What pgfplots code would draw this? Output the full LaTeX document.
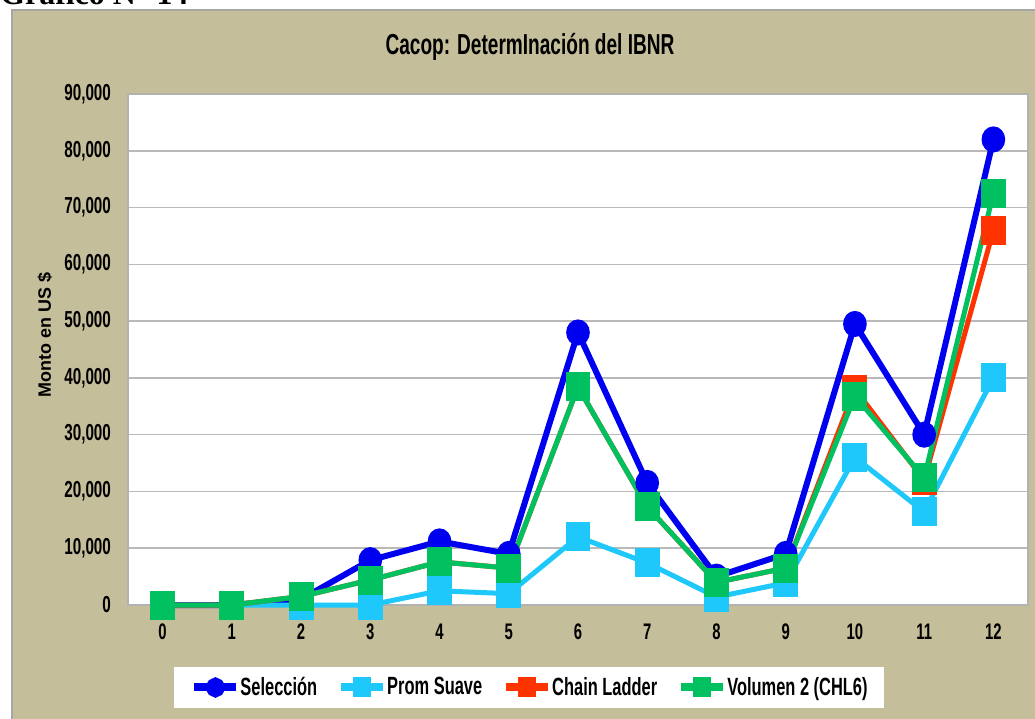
\documentclass[border=0pt]{standalone}
\usepackage{fontspec}
\setmainfont{Liberation Sans}[FakeStretch=0.66]
\newfontfamily\widefont{Liberation Sans}
\newfontfamily\seriffont{Liberation Serif}
\usepackage{pgfplots}
\pgfplotsset{compat=1.18}
\definecolor{tanbg}{RGB}{197,190,154}
\definecolor{cSel}{RGB}{0,0,240}
\definecolor{cProm}{RGB}{30,200,250}
\definecolor{cChain}{RGB}{255,51,0}
\definecolor{cVol}{RGB}{0,192,96}
\begin{document}
\begin{tikzpicture}
\useasboundingbox (-64bp,-57bp) rectangle (453.5bp,302.5bp);
\fill[white] (-64bp,-57bp) rectangle (453.5bp,302.5bp);
\fill[tanbg] (-58bp,-60bp) rectangle (460bp,297.5bp);
\draw[gray!70, line width=1bp] (-58bp,-60bp) -- (-58bp,297.5bp) -- (460bp,297.5bp);
\node[anchor=base west, inner sep=0pt, font=\seriffont\bfseries\fontsize{16}{18}\selectfont] at (-64bp,300bp) {Gráfico N° 14};
\begin{axis}[
  at={(0,0)}, anchor=south west, scale only axis,
  width=450bp, height=255.5bp,
  xmin=-0.5, xmax=12.5, ymin=0, ymax=90000,
  xtick={0,1,...,12}, ytick={0,10000,...,90000},
  ymajorgrids, grid style={draw=gray!55, line width=0.8bp},
  axis background/.style={fill=white},
  axis line style={draw=gray!60, line width=0.8bp},
  major tick length=0pt,
  scaled y ticks=false,
  clip=false,
  /pgf/number format/.cd, 1000 sep={,}, assume math mode=true, /pgfplots/.cd,
  yticklabel style={font=\bfseries\fontsize{11.6}{13}\selectfont, xshift=-5bp},
  xticklabel style={font=\bfseries\fontsize{11.3}{13}\selectfont, yshift=-6bp},
  legend columns=4,
  legend cell align=left,
  legend style={at={(0.4456,-0.1614)}, anchor=center, draw=none, fill=white,
    font=\bfseries\fontsize{12.5}{14}\selectfont,
    nodes={inner xsep=0bp},
    inner xsep=8bp, inner ysep=3bp,
    /tikz/every odd column/.append style={column sep=0bp},
    /tikz/every even column/.append style={column sep=10bp}},
  legend image code/.code={\draw[mark repeat=2, mark phase=2, line width=4bp, mark size=3bp] plot coordinates {(0bp,0bp) (10.5bp,0bp) (21bp,0bp)};},
]
\addplot[cSel, line width=3bp, mark=*, mark size=5bp, mark options={solid, fill=cSel, xscale=0.88}] coordinates {
(0,0) (1,0) (2,1000) (3,7900) (4,11200) (5,9000) (6,48000) (7,21500) (8,5000) (9,9000) (10,49500) (11,30000) (12,82000)};
\addlegendentry{Selección}
\addplot[cProm, line width=2.5bp, mark=square*, mark size=6bp, mark options={solid, fill=cProm, xscale=0.83}] coordinates {
(0,0) (1,0) (2,0) (3,0) (4,2500) (5,2000) (6,12000) (7,7400) (8,1400) (9,3900) (10,26000) (11,16400) (12,40000)};
\addlegendentry{Prom Suave}
\addplot[cChain, line width=2.5bp, mark=square*, mark size=6bp, mark options={solid, fill=cChain, xscale=0.83}] coordinates {
(0,0) (1,0) (2,1500) (3,4400) (4,7600) (5,6500) (6,38400) (7,17300) (8,4000) (9,6500) (10,38000) (11,22000) (12,66000)};
\addlegendentry{Chain Ladder}
\addplot[cVol, line width=2.5bp, mark=square*, mark size=6bp, mark options={solid, fill=cVol, xscale=0.83}] coordinates {
(0,0) (1,0) (2,1500) (3,4400) (4,7600) (5,6500) (6,38400) (7,17300) (8,4000) (9,6500) (10,36800) (11,22400) (12,72500)};
\addlegendentry{Volumen 2 (CHL6)}
\end{axis}
\node[font=\bfseries\fontsize{14.5}{16}\selectfont] at (201bp,279bp) {Cacop: DetermInación del IBNR};
\node[rotate=90, font=\widefont\bfseries\fontsize{9}{11}\selectfont] at (-41.5bp,135bp) {Monto en US \$};
\end{tikzpicture}
\end{document}
